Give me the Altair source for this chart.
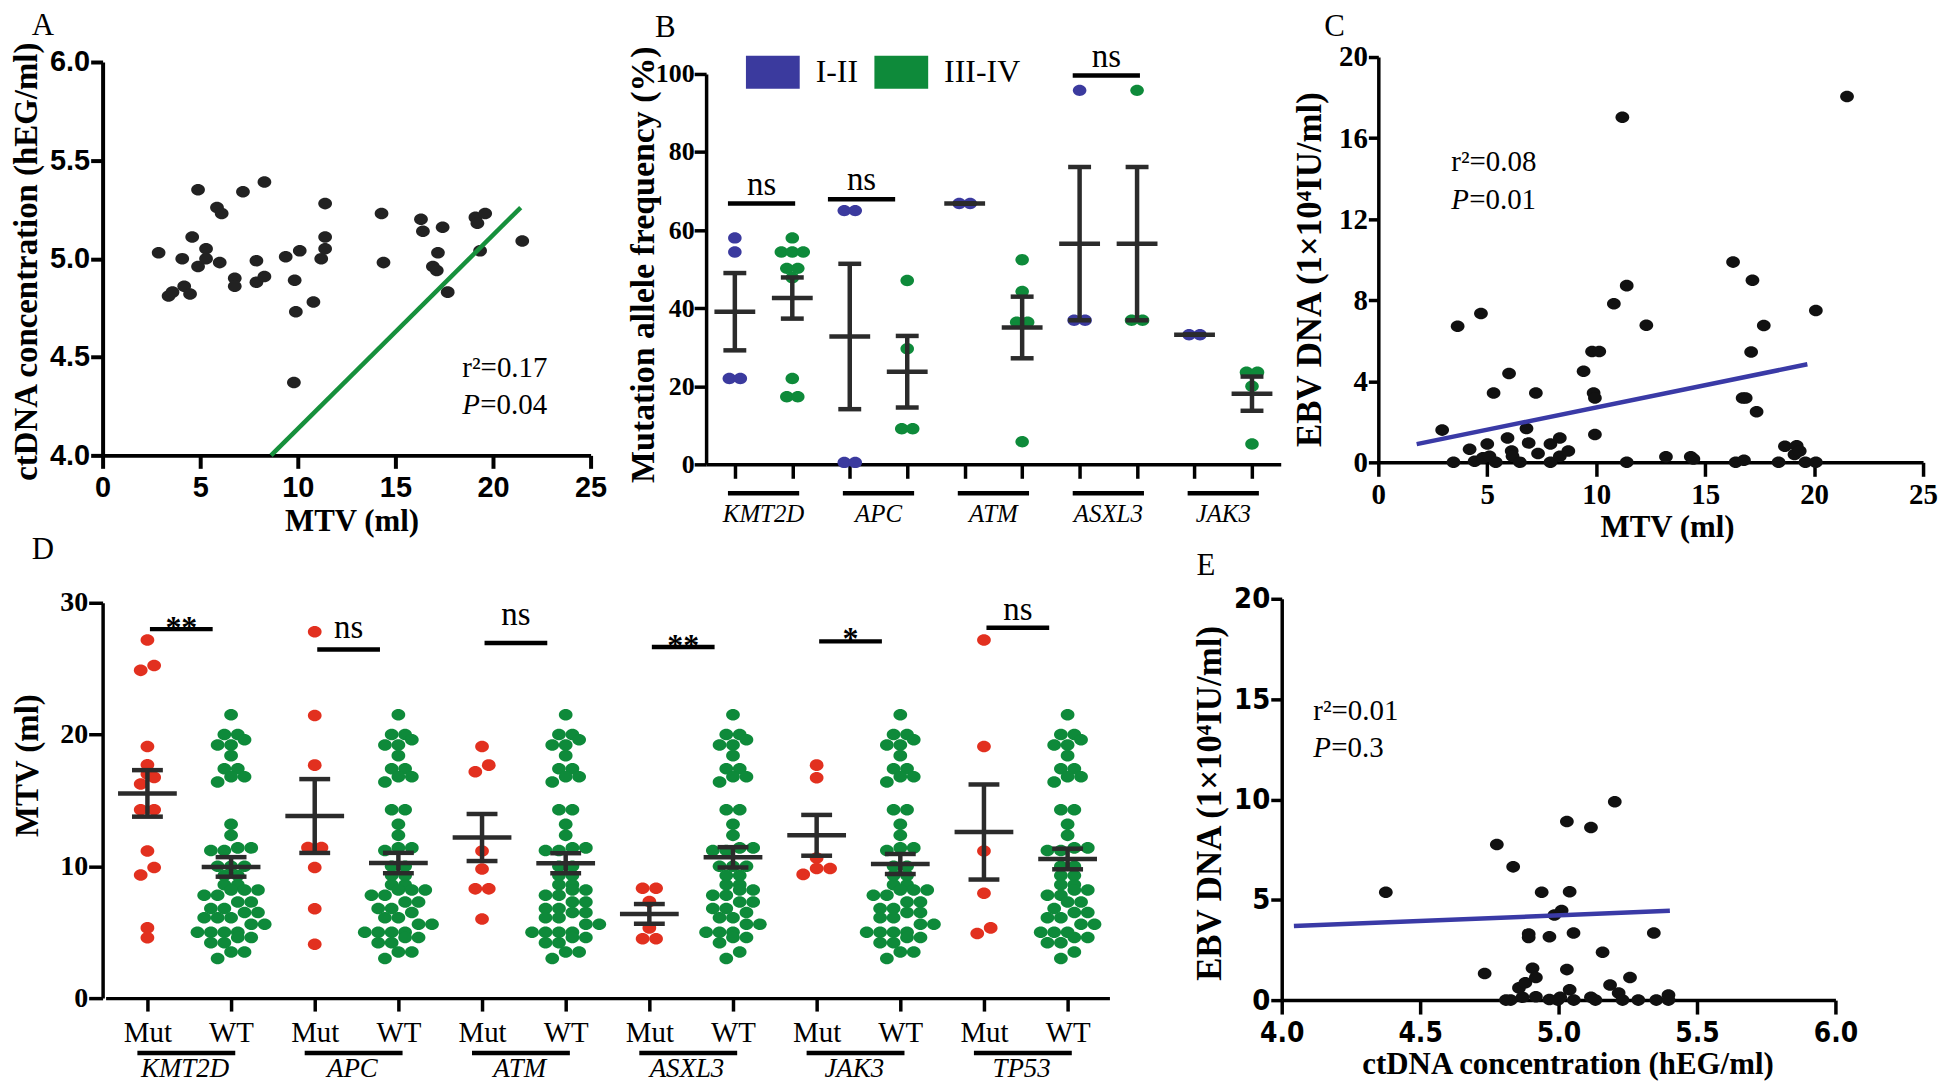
import altair as alt
import pandas as pd

# ----------------------------------------------------------------- data ----
# Panel A : MTV vs ctDNA concentration
A_MTV = [2.87, 3.38, 3.58, 4.08, 4.18, 4.48, 4.59, 4.89, 4.89, 5.30, 5.30, 5.86, 6.10, 6.00, 6.77,
         6.77, 7.19, 7.88, 7.88, 8.29, 8.29, 9.38, 9.84, 9.90, 10.10, 9.80, 10.80, 11.20, 11.40, 11.40,
         11.40, 14.29, 14.39, 16.31, 16.41, 16.92, 17.12, 17.18, 17.42, 17.68, 19.10, 19.20, 19.60, 19.34, 21.50]
A_CT = [5.03, 4.81, 4.83, 5.00, 4.86, 4.82, 5.11, 5.35, 4.96, 5.05, 5.00, 5.26, 5.23, 4.98, 4.90,
        4.86, 5.34, 4.99, 4.88, 5.39, 4.91, 5.01, 4.89, 4.73, 5.04, 4.37, 4.78, 5.00, 5.28, 5.11,
        5.05, 5.23, 4.98, 5.20, 5.14, 4.96, 4.94, 5.03, 5.16, 4.83, 5.21, 5.18, 5.23, 5.04, 5.09]
A_FIT_MTV = [8.63, 21.42]
A_FIT_CT = [4.00, 5.26]

# Panel C : MTV vs EBV DNA
C_MTV = [2.93, 3.45, 3.64, 4.19, 4.42, 4.71, 4.80, 5.00, 5.10, 5.29, 5.39, 5.93, 6.00, 6.12, 6.16,
         6.50, 6.80, 6.90, 7.23, 7.33, 7.90, 7.90, 8.33, 8.33, 8.72, 9.42, 9.81, 10.14, 9.88, 9.94,
         9.94, 10.81, 11.20, 11.40, 11.40, 12.30, 13.20, 14.34, 14.46, 16.28, 16.40, 16.72, 16.86, 16.78, 17.17,
         17.11, 17.36, 17.69, 18.37, 18.66, 19.20, 19.10, 19.34, 19.60, 20.08, 20.08, 21.51]
C_EBV = [1.59, 0.00, 6.72, 0.65, 0.05, 7.35, 0.22, 0.90, 0.30, 3.42, 0.00, 1.20, 4.38, 0.56, 0.30,
         0.00, 1.67, 0.96, 3.42, 0.44, 0.90, 0.00, 1.20, 0.30, 0.56, 4.50, 5.47, 5.47, 3.42, 3.18,
         1.37, 7.83, 17.03, 8.72, 0.00, 6.77, 0.27, 0.27, 0.17, 9.88, 0.00, 3.18, 3.18, 0.10, 8.99,
         5.44, 2.50, 6.75, 0.00, 0.79, 0.82, 0.39, 0.56, 0.00, 7.49, 0.00, 18.05]
C_FIT_MTV = [1.76, 19.69]
C_FIT_EBV = [0.90, 4.84]

# Panel E : ctDNA concentration vs EBV DNA
E_CT = [4.376, 4.733, 4.777, 4.827, 4.810, 4.836, 4.857, 4.870, 4.880, 4.892, 4.892, 4.906, 4.918, 4.918,
        4.939, 4.967, 4.967, 4.985, 5.011, 5.006, 4.997, 5.030, 5.030, 5.040, 5.040, 5.054, 5.055, 5.117,
        5.117, 5.133, 5.159, 5.186, 5.203, 5.217, 5.231, 5.258, 5.288, 5.344, 5.353, 5.397, 5.397]
E_EBV = [5.37, 1.33, 7.76, 0.00, 0.00, 6.64, 0.61, 0.14, 0.87, 3.30, 3.12, 1.59, 1.13, 0.17,
         5.37, 3.16, 0.03, 4.24, 4.46, 0.14, 0.00, 8.90, 1.52, 5.40, 0.52, 3.35, 0.00, 8.60,
         0.14, 0.00, 2.39, 0.75, 9.88, 0.35, 0.00, 1.13, 0.00, 3.35, 0.00, 0.26, 0.00]
E_FIT_CT = [4.044, 5.402]
E_FIT_EBV = [3.69, 4.45]

# Panel B : mutation allele frequency (%) by stage
B_GENES = ["KMT2D", "APC", "ATM", "ASXL3", "JAK3"]
B_STAGES = ["I-II", "III-IV"]
B_KMT2D_I = [58.0, 54.4, 22.0, 22.0]
B_KMT2D_III = [58.0, 54.4, 54.4, 54.4, 50.2, 50.2, 47.8, 22.0, 17.3, 17.3]
B_APC_I = [65.0, 65.0, 0.5, 0.5]
B_APC_III = [47.1, 29.6, 9.1, 9.1]
B_ATM_I = [66.8, 66.8]
B_ATM_III = [52.4, 44.3, 36.4, 36.4, 5.8]
B_ASXL3_I = [95.8, 36.9, 36.9]
B_ASXL3_III = [95.8, 36.9, 36.9]
B_JAK3_I = [33.2, 33.2]
B_JAK3_III = [23.6, 23.6, 20.0, 5.2]
B_SIG_GENE = ["KMT2D", "APC", "ASXL3"]
B_SIG_LEVEL = [66.8, 67.9, 99.6]
B_SIG_LABEL = ["ns", "ns", "ns"]

# Panel D : MTV (ml) in mutant vs wild type
D_GENES = ["KMT2D", "APC", "ATM", "ASXL3", "JAK3", "TP53"]
D_KMT2D_MUT = [27.17, 25.24, 24.87, 19.10, 17.70, 17.00, 16.75, 16.25, 14.30, 14.30, 11.17, 9.92, 9.34, 5.33, 4.58]
D_APC_MUT = [27.80, 21.44, 17.68, 11.42, 11.42, 9.92, 6.79, 4.08]
D_ATM_MUT = [19.10, 17.68, 17.18, 11.17, 9.79, 8.29, 8.29, 6.00]
D_ASXL3_MUT = [8.34, 8.34, 7.34, 5.33, 4.50, 4.50]
D_JAK3_MUT = [17.68, 16.73, 10.64, 9.84, 9.84, 9.39]
D_TP53_MUT = [27.17, 19.10, 11.17, 7.96, 5.33, 4.90]
D_KMT2D_WT = [21.5, 20.0, 20.0, 19.6, 19.2, 19.2, 18.4, 17.4, 17.4, 16.8, 16.8, 16.4, 13.2, 12.35,
              11.4, 11.4, 11.2, 11.2, 10.0, 10.0, 10.0, 9.3, 9.3, 8.6, 8.6, 8.2, 8.2, 8.2, 7.8, 7.8,
              7.3, 7.3, 6.8, 6.8, 6.5, 6.5, 6.1, 6.1, 6.1, 5.6, 5.6, 5.0, 5.0, 5.0, 5.0, 4.6, 4.6,
              4.2, 4.2, 3.5, 3.5, 3.0]
D_APC_WT = [21.5, 20.0, 20.0, 19.6, 19.2, 19.2, 18.4, 17.4, 17.4, 16.8, 16.8, 16.4, 14.3, 14.3, 13.2,
            12.35, 11.4, 11.4, 11.2, 10.0, 10.0, 9.3, 9.3, 8.6, 8.6, 8.2, 8.2, 8.2, 7.8, 7.8,
            7.3, 7.3, 6.8, 6.8, 6.5, 6.1, 6.1, 5.6, 5.6, 5.0, 5.0, 5.0, 5.0, 4.6, 4.6,
            4.2, 4.2, 3.5, 3.5, 3.0]
D_ATM_WT = [21.5, 20.0, 20.0, 19.6, 19.2, 19.2, 18.4, 17.4, 17.4, 16.8, 16.8, 16.4, 14.3, 14.3, 13.2,
            12.35, 11.4, 11.4, 11.2, 11.2, 10.0, 10.0, 9.3, 9.3, 8.6, 8.6, 8.2, 8.2, 7.8, 7.8,
            7.3, 7.3, 6.8, 6.8, 6.5, 6.5, 6.1, 6.1, 5.6, 5.6, 5.0, 5.0, 5.0, 5.0, 4.6, 4.6,
            4.2, 4.2, 3.5, 3.5, 3.0]
D_ASXL3_WT = [21.5, 20.0, 20.0, 19.6, 19.2, 19.2, 18.4, 17.4, 17.4, 16.8, 16.8, 16.4, 14.3, 14.3, 13.2,
              12.35, 11.4, 11.4, 11.2, 11.2, 10.0, 10.0, 10.0, 9.3, 9.3, 8.6, 8.6, 8.2, 8.2, 7.8, 7.8,
              7.3, 7.3, 6.8, 6.8, 6.5, 6.1, 6.1, 5.6, 5.6, 5.0, 5.0, 5.0, 4.6, 4.6,
              4.2, 3.5, 3.0]
D_JAK3_WT = [21.5, 20.0, 20.0, 19.6, 19.2, 19.2, 18.4, 17.4, 17.4, 16.8, 16.8, 16.4, 14.3, 14.3, 13.2,
             12.35, 11.4, 11.4, 11.2, 10.0, 10.0, 9.3, 9.3, 8.6, 8.6, 8.2, 8.2, 8.2, 7.8, 7.8,
             7.3, 7.3, 6.8, 6.8, 6.5, 6.5, 6.1, 6.1, 5.6, 5.6, 5.0, 5.0, 5.0, 5.0, 4.6, 4.6,
             4.2, 4.2, 3.5, 3.5, 3.0]
D_TP53_WT = [21.5, 20.0, 20.0, 19.6, 19.2, 19.2, 18.4, 17.4, 17.4, 16.8, 16.8, 16.4, 14.3, 14.3, 13.2,
             12.35, 11.4, 11.4, 11.2, 11.2, 10.0, 10.0, 9.3, 9.3, 8.6, 8.6, 8.2, 8.2, 7.8, 7.8,
             7.3, 7.3, 6.8, 6.5, 6.5, 6.1, 6.1, 5.6, 5.6, 5.0, 5.0, 5.0, 4.6, 4.6,
             4.2, 4.2, 3.5, 3.0]
D_SIG_LEVEL = [28.0, 26.45, 26.95, 26.65, 27.07, 28.1]
D_SIG_LABEL = ["**", "ns", "ns", "**", "*", "ns"]
D_SIG_TEXT = [28.75, 27.9, 28.9, 27.4, 27.9, 29.3]

# ---------------------------------------------------------------- style ----
SERIF = "Liberation Serif"
SANS = "Liberation Sans"
NARROW = "Liberation Sans Narrow, DejaVu Sans Condensed, Liberation Sans"
INK = "#000000"
BAR = "#2b2b2b"
DOT = "#222222"
BLUE = "#3b3a9e"
GREEN = "#0e8a3a"
RED = "#e2301f"
LINE_GREEN = "#16903c"
LINE_BLUE = "#3a3aa6"
ELLIPSE = "M-1,0 A1,0.84 0 1,0 1,0 A1,0.84 0 1,0 -1,0 Z"
RECT = "M-1,-0.61 L1,-0.61 L1,0.61 L-1,0.61 Z"
ROW1_H = 409
COL0_W, COL1_W, COL2_W = 508, 577, 547


def axis(orient, values, title, tx=0, ty=0, lfont=SERIF, lsize=28, lweight="bold", fmt=None,
         tick=12, lpad=2, width=3.5, tsize=31, labels=True, label_expr=None, offset=0):
    kw = dict(orient=orient, values=values, grid=False, labels=labels, domainColor=INK,
              domainWidth=width, tickColor=INK, tickWidth=width, tickSize=tick,
              labelFont=lfont, labelFontSize=lsize, labelFontWeight=lweight, labelColor=INK,
              labelPadding=lpad, labelOverlap=False, labelFlush=False, offset=offset)
    if title is None:
        kw["title"] = None
    else:
        kw.update(title=title, titleX=tx, titleY=ty, titleAlign="center", titleBaseline="middle",
                  titleAngle=270 if orient == "left" else 0, titleFont=SERIF, titleFontSize=tsize,
                  titleFontWeight="bold", titleColor=INK)
    if fmt:
        kw["format"] = fmt
    if label_expr:
        kw["labelExpr"] = label_expr
    return alt.Axis(**kw)


def letter(txt, x, y):
    return alt.Chart(pd.DataFrame({"t": [txt]})).mark_text(
        font=SERIF, fontSize=31, align="center", baseline="alphabetic", color=INK
    ).encode(text="t:N", x=alt.value(x), y=alt.value(y))


def stat_text(X, Y, xf, yf, x, y1, y2, r2, p):
    base = dict(font=SERIF, fontSize=29, align="left", baseline="alphabetic", color=INK)
    d1 = pd.DataFrame({xf: [x], yf: [y1], "t": ["r\u00b2=" + r2]})
    d2 = pd.DataFrame({xf: [x], yf: [y2], "t": ["P"]})
    d3 = pd.DataFrame({xf: [x], yf: [y2], "t": ["=" + p]})
    return [
        alt.Chart(d1).mark_text(**base).encode(x=X, y=Y, text="t:N"),
        alt.Chart(d2).mark_text(fontStyle="italic", **base).encode(x=X, y=Y, text="t:N"),
        alt.Chart(d3).mark_text(dx=18, **base).encode(x=X, y=Y, text="t:N"),
    ]


def swarm_offsets(values, px_per_unit, row_px, gap_px):
    order = sorted(range(len(values)), key=lambda i: values[i])
    offsets = [0.0] * len(values)
    rows, cur, start = [], [], None
    for i in order:
        y = values[i] * px_per_unit
        if cur and y - start > row_px:
            rows.append(cur)
            cur = []
        if not cur:
            start = y
        cur.append(i)
    if cur:
        rows.append(cur)
    for row in rows:
        n = len(row)
        for k, i in enumerate(row):
            offsets[i] = (k - (n - 1) / 2.0) * gap_px
    return offsets


def dot_layer(df, X, Y, color, size=190):
    return alt.Chart(df).mark_point(shape=ELLIPSE, filled=True, size=size, opacity=1,
                                    strokeWidth=0, color=color).encode(x=X, y=Y)


# --------------------------------------------------------------- panel A ----
sa_x = alt.Scale(domain=[0, 25], range=[0, 490], nice=False, zero=False)
sa_y = alt.Scale(domain=[4, 6], range=[400, 5], nice=False, zero=False)
XA = alt.X("mtv:Q", scale=sa_x, axis=axis("bottom", [0, 5, 10, 15, 20, 25], "MTV (ml)", 250, 66,
                                          lfont=SANS, lsize=29, tick=13, lpad=5, width=4,
                                          offset=400 - ROW1_H))
YA = alt.Y("ct:Q", scale=sa_y, axis=axis("left", [4.0, 4.5, 5.0, 5.5, 6.0], "ctDNA concentration (hEG/ml)",
                                         -76, 205, lfont=SANS, lsize=29, fmt=".1f", tick=12, lpad=1, width=4,
                                         tsize=33))
a_df = pd.DataFrame({"mtv": A_MTV, "ct": A_CT})
a_fit = pd.DataFrame({"mtv": A_FIT_MTV, "ct": A_FIT_CT})
panel_a = alt.layer(
    dot_layer(a_df, XA, YA, DOT),
    alt.Chart(a_fit).mark_line(color=LINE_GREEN, strokeWidth=4.5).encode(x=XA, y=YA),
    *stat_text(XA, YA, "mtv", "ct", 18.43, 4.40, 4.21, "0.17", "0.04"),
    letter("A", -60, -22),
).properties(width=COL0_W, height=ROW1_H)

# --------------------------------------------------------------- panel B ----
B_W, B_H = COL1_W, ROW1_H
B_STEP = B_W / 10.0
B_PPU = (B_H - 17) / 100.0
B_GROUPS = [B_KMT2D_I, B_KMT2D_III, B_APC_I, B_APC_III, B_ATM_I, B_ATM_III,
            B_ASXL3_I, B_ASXL3_III, B_JAK3_I, B_JAK3_III]
rows = []
for i, vals in enumerate(B_GROUPS):
    offs = swarm_offsets(vals, B_PPU, 7, 11.0)
    for v, o in zip(vals, offs):
        rows.append(dict(idx=i, gene=B_GENES[i // 2], stage=B_STAGES[i % 2], maf=v, xpos=i + o / B_STEP))
b_df = pd.DataFrame(rows)
sb_x = alt.Scale(domain=[-0.5, 9.5], nice=False, zero=False)
sb_y = alt.Scale(domain=[0, 100], range=[B_H, 17], nice=False, zero=False)
ax_bx = axis("bottom", list(range(10)), None, labels=False, tick=14, width=3.5)
ax_by = axis("left", [0, 20, 40, 60, 80, 100], "Mutation allele frequency (%)", -63, 208,
             lfont=SERIF, lsize=26, tick=12, lpad=0, width=3.5, tsize=34)


def XB(f):
    return alt.X(f + ":Q", scale=sb_x, axis=ax_bx)


def YB(f):
    return alt.Y(f + ":Q", scale=sb_y, axis=ax_by)


b_stats = alt.Chart(b_df).transform_aggregate(
    m="mean(maf)", se="stderr(maf)", groupby=["idx"]
).transform_calculate(xpos="datum.idx", lo="datum.m - datum.se", hi="datum.m + datum.se")

b_points = alt.Chart(b_df).mark_point(shape=ELLIPSE, filled=True, size=185, opacity=1, strokeWidth=0).encode(
    x=XB("xpos"), y=YB("maf"),
    color=alt.Color("stage:N", scale=alt.Scale(domain=B_STAGES, range=[BLUE, GREEN]),
                    legend=alt.Legend(orient="none", legendX=40, legendY=-12, direction="horizontal",
                                      title=None, symbolType=RECT, symbolSize=2916, symbolStrokeWidth=0,
                                      symbolOpacity=1, labelFont=SERIF, labelFontSize=32, labelColor=INK,
                                      labelOffset=16, columnPadding=16, padding=0)),
)
b_under = pd.DataFrame({"gene": B_GENES,
                        "a": [2 * g - 0.12 for g in range(5)],
                        "b": [2 * g + 1.12 for g in range(5)],
                        "c": [2 * g + 0.5 for g in range(5)]})
b_shift = [0.0, -0.26, 0.0]
b_sig = pd.DataFrame({"lab": B_SIG_LABEL, "lvl": B_SIG_LEVEL,
                      "a": [2 * B_GENES.index(g) - 0.12 + s for g, s in zip(B_SIG_GENE, b_shift)],
                      "b": [2 * B_GENES.index(g) + 1.05 + s for g, s in zip(B_SIG_GENE, b_shift)]})
b_sig["c"] = (b_sig["a"] + b_sig["b"]) / 2
panel_b = alt.layer(
    b_points,
    b_stats.mark_rule(color=BAR, strokeWidth=4.5).encode(x=XB("xpos"), y=YB("lo"), y2="hi:Q"),
    b_stats.mark_rule(color=BAR, strokeWidth=4.5, xOffset=-20.5, x2Offset=20.5).encode(
        x=XB("xpos"), x2="xpos:Q", y=YB("m")),
    b_stats.mark_rule(color=BAR, strokeWidth=4.5, xOffset=-11.5, x2Offset=11.5).encode(
        x=XB("xpos"), x2="xpos:Q", y=YB("lo")),
    b_stats.mark_rule(color=BAR, strokeWidth=4.5, xOffset=-11.5, x2Offset=11.5).encode(
        x=XB("xpos"), x2="xpos:Q", y=YB("hi")),
    alt.Chart(b_sig).mark_rule(color=INK, strokeWidth=4.5).encode(x=XB("a"), x2="b:Q", y=YB("lvl")),
    alt.Chart(b_sig).mark_text(font=SERIF, fontSize=33, baseline="middle", dy=-19, color=INK).encode(
        x=XB("c"), y=YB("lvl"), text="lab:N"),
    alt.Chart(b_under).mark_rule(color=INK, strokeWidth=4.5).encode(x=XB("a"), x2="b:Q", y=alt.value(B_H + 29)),
    alt.Chart(b_under).mark_text(font=SERIF, fontSize=25, fontStyle="italic", baseline="middle", color=INK).encode(
        x=XB("c"), y=alt.value(B_H + 50), text="gene:N"),
    letter("B", -41, -20),
).properties(width=B_W, height=B_H)

# --------------------------------------------------------------- panel C ----
sc_x = alt.Scale(domain=[0, 25], nice=False, zero=False)
sc_y = alt.Scale(domain=[0, 20], range=[407, 0], nice=False, zero=False)
XC = alt.X("mtv:Q", scale=sc_x, axis=axis("bottom", [0, 5, 10, 15, 20, 25], "MTV (ml)", 290, 65,
                                          lfont=SERIF, lsize=29, tick=14, lpad=4, offset=407 - ROW1_H))
YC = alt.Y("ebv:Q", scale=sc_y, axis=axis("left", [0, 4, 8, 12, 16, 20], "EBV DNA (1\u00d710\u2074IU/ml)",
                                          -69, 213, lfont=SERIF, lsize=29, tick=10, lpad=1, tsize=35))
c_df = pd.DataFrame({"mtv": C_MTV, "ebv": C_EBV})
c_fit = pd.DataFrame({"mtv": C_FIT_MTV, "ebv": C_FIT_EBV})
panel_c = alt.layer(
    dot_layer(c_df, XC, YC, "#111111"),
    alt.Chart(c_fit).mark_line(color=LINE_BLUE, strokeWidth=4.5).encode(x=XC, y=YC),
    *stat_text(XC, YC, "mtv", "ebv", 3.35, 14.36, 12.48, "0.08", "0.01"),
    letter("C", -44, -21),
).properties(width=COL2_W, height=ROW1_H)

# --------------------------------------------------------------- panel D ----
# (cell sits in column 0; its axis range runs on under column 1)
D_H = 401
D_RIGHT = 1011
D_STEP = (D_RIGHT - 3) / 12.0
D_PPU = (D_H - 4) / 30.0
D_MUTS = [D_KMT2D_MUT, D_APC_MUT, D_ATM_MUT, D_ASXL3_MUT, D_JAK3_MUT, D_TP53_MUT]
D_WTS = [D_KMT2D_WT, D_APC_WT, D_ATM_WT, D_ASXL3_WT, D_JAK3_WT, D_TP53_WT]
rows = []
for g, gene in enumerate(D_GENES):
    for k, (kind, vals) in enumerate([("Mut", D_MUTS[g]), ("WT", D_WTS[g])]):
        i = 2 * g + k
        offs = swarm_offsets(vals, D_PPU, 9, 13.5)
        for v, o in zip(vals, offs):
            rows.append(dict(idx=i, gene=gene, kind=kind, mtv=v, xpos=i + o / D_STEP))
d_df = pd.DataFrame(rows)
sd_x = alt.Scale(domain=[-0.5, 11.5], range=[3, D_RIGHT], nice=False, zero=False)
sd_y = alt.Scale(domain=[0, 30], range=[D_H, 4], nice=False, zero=False)
ax_dx = axis("bottom", list(range(12)), None, lfont=SERIF, lsize=29, lweight="normal", tick=13, lpad=8,
             label_expr="datum.value % 2 == 0 ? 'Mut' : 'WT'")
ax_dy = axis("left", [0, 10, 20, 30], "MTV (ml)", -75.5, 167, lfont=SERIF, lsize=28, tick=14, lpad=1,
             tsize=33)


def XD(f):
    return alt.X(f + ":Q", scale=sd_x, axis=ax_dx)


def YD(f):
    return alt.Y(f + ":Q", scale=sd_y, axis=ax_dy)


d_stats = alt.Chart(d_df).transform_aggregate(
    m="mean(mtv)", se="stderr(mtv)", groupby=["idx"]
).transform_calculate(xpos="datum.idx", lo="datum.m - datum.se", hi="datum.m + datum.se")
d_points = alt.Chart(d_df).mark_point(shape=ELLIPSE, filled=True, size=190, opacity=1, strokeWidth=0).encode(
    x=XD("xpos"), y=YD("mtv"),
    color=alt.condition(alt.datum.kind == "Mut", alt.value(RED), alt.value(GREEN)),
)
d_under = pd.DataFrame({"gene": D_GENES,
                        "a": [2 * g - 0.12 for g in range(6)],
                        "b": [2 * g + 1.05 for g in range(6)],
                        "c": [2 * g + 0.45 for g in range(6)]})
d_sig = pd.DataFrame({"lab": D_SIG_LABEL, "lvl": D_SIG_LEVEL, "ty": D_SIG_TEXT,
                      "a": [2 * g + 0.03 for g in range(6)],
                      "b": [2 * g + 0.78 for g in range(6)]})
d_sig["c"] = (d_sig["a"] + d_sig["b"]) / 2
d_sig_ns = d_sig[d_sig["lab"] == "ns"]
d_sig_star = d_sig[d_sig["lab"] != "ns"]
panel_d = alt.layer(
    d_points,
    d_stats.mark_rule(color=BAR, strokeWidth=4.5).encode(x=XD("xpos"), y=YD("lo"), y2="hi:Q"),
    d_stats.mark_rule(color=BAR, strokeWidth=4.5, xOffset=-29.5, x2Offset=29.5).encode(
        x=XD("xpos"), x2="xpos:Q", y=YD("m")),
    d_stats.mark_rule(color=BAR, strokeWidth=4.5, xOffset=-15.5, x2Offset=15.5).encode(
        x=XD("xpos"), x2="xpos:Q", y=YD("lo")),
    d_stats.mark_rule(color=BAR, strokeWidth=4.5, xOffset=-15.5, x2Offset=15.5).encode(
        x=XD("xpos"), x2="xpos:Q", y=YD("hi")),
    alt.Chart(d_sig).mark_rule(color=INK, strokeWidth=4.5).encode(x=XD("a"), x2="b:Q", y=YD("lvl")),
    alt.Chart(d_sig_ns).mark_text(font=SERIF, fontSize=33, baseline="middle", dy=-2, color=INK).encode(
        x=XD("c"), y=YD("ty"), text="lab:N"),
    alt.Chart(d_sig_star).mark_text(font=SERIF, fontSize=32, fontWeight="bold", baseline="middle", dy=9,
                                    color=INK).encode(x=XD("c"), y=YD("ty"), text="lab:N"),
    alt.Chart(d_under).mark_rule(color=INK, strokeWidth=4.5).encode(x=XD("a"), x2="b:Q", y=alt.value(D_H + 55)),
    alt.Chart(d_under).mark_text(font=SERIF, fontSize=27, fontStyle="italic", baseline="alphabetic",
                                 color=INK).encode(x=XD("c"), y=alt.value(D_H + 79), text="gene:N"),
    letter("D", -60, -40),
).properties(width=COL0_W, height=D_H)

# --------------------------------------------------------------- panel E ----
# (cell sits in column 1; its plot starts E_LEFT px into the cell)
E_H = 403
E_LEFT = 578
E_RIGHT = E_LEFT + 556
se_x = alt.Scale(domain=[4, 6], range=[E_LEFT, E_RIGHT], nice=False, zero=False)
se_y = alt.Scale(domain=[0, 20], nice=False, zero=False)
XE = alt.X("ct:Q", scale=se_x, axis=axis("bottom", [4.0, 4.5, 5.0, 5.5, 6.0], "ctDNA concentration (hEG/ml)",
                                         E_LEFT + 287, 65, lfont=NARROW, lsize=28, fmt=".1f", tick=14, lpad=6,
                                         tsize=31))
YE = alt.Y("ebv:Q", scale=se_y, axis=axis("left", [0, 5, 10, 15, 20], "EBV DNA (1\u00d710\u2074IU/ml)",
                                          -72, 205, lfont=NARROW, lsize=29, tick=11, lpad=1, offset=-E_LEFT,
                                          tsize=35))
e_df = pd.DataFrame({"ct": E_CT, "ebv": E_EBV})
e_fit = pd.DataFrame({"ct": E_FIT_CT, "ebv": E_FIT_EBV})
panel_e = alt.layer(
    dot_layer(e_df, XE, YE, "#111111"),
    alt.Chart(e_fit).mark_line(color=LINE_BLUE, strokeWidth=4.5).encode(x=XE, y=YE),
    *stat_text(XE, YE, "ct", "ebv", 4.114, 13.94, 12.12, "0.01", "0.3"),
    letter("E", E_LEFT - 76, -24),
).properties(width=COL1_W - 20, height=E_H)

# ---------------------------------------------------------------- layout ----
chart = alt.concat(
    panel_a, panel_b, panel_c, panel_d, panel_e,
    columns=3, spacing={"row": 135, "column": 98}, bounds="flush", align="each",
).resolve_scale(color="independent").properties(
    padding={"left": 2, "top": 0, "right": 0, "bottom": 0}, background="white"
).configure_view(stroke=None)

chart.save("out.html", embed_options={"renderer": "svg", "actions": False})
